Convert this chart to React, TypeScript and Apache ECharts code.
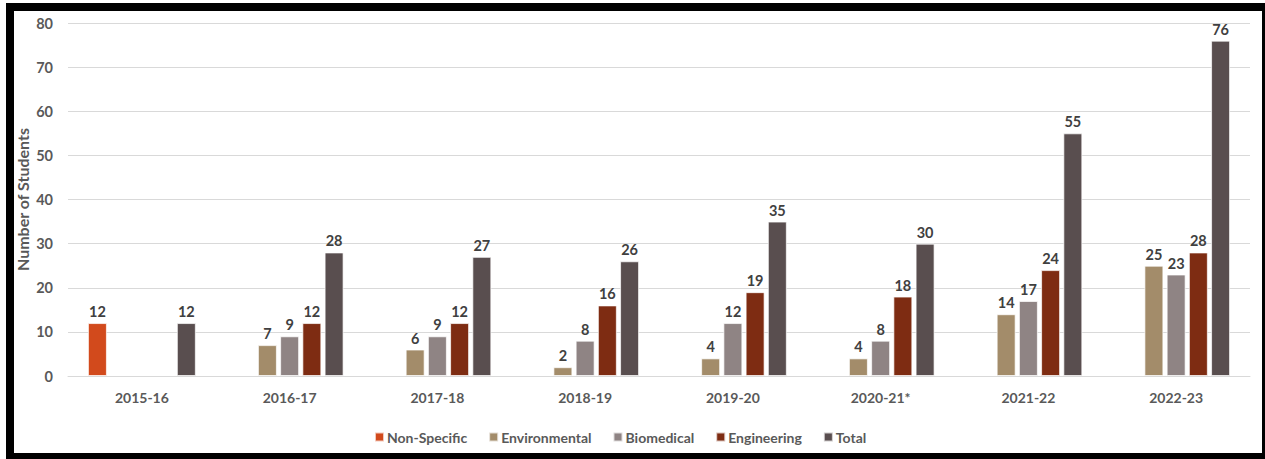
import React, { useEffect, useRef } from "react";
import * as echarts from "echarts";

const categories = ["2015-16", "2016-17", "2017-18", "2018-19", "2019-20", "2020-21*", "2021-22", "2022-23"];
const nonSpecific = [12, null, null, null, null, null, null, null];
const environmental = [null, 7, 6, 2, 4, 4, 14, 25];
const biomedical = [null, 9, 9, 8, 12, 8, 17, 23];
const engineering = [null, 12, 12, 16, 19, 18, 24, 28];
const total = [12, 28, 27, 26, 35, 30, 55, 76];
const seriesNames = ["Non-Specific", "Environmental", "Biomedical", "Engineering", "Total"];
const seriesColors = ["#D24A1C", "#A38C6A", "#8F8484", "#7E2C12", "#594E4F"];
const yTicks = { min: 0, max: 80, interval: 10 };

const FONT = "Lato, 'Open Sans', sans-serif";

export default function App() {
  const ref = useRef<HTMLDivElement>(null);
  useEffect(() => {
    if (!ref.current) return;
    const chart = echarts.init(ref.current, null, { renderer: "svg" });
    const data = [nonSpecific, environmental, biomedical, engineering, total];
    chart.setOption({
      animation: false,
      textStyle: { fontFamily: FONT },
      grid: { left: 54, right: 12, top: 12, bottom: 77, containLabel: false, outerBoundsMode: "none" },
      legend: {
        data: seriesNames,
        bottom: 4,
        left: 355,
        itemWidth: 9,
        itemHeight: 9,
        itemGap: 21,
        icon: "rect",
        textStyle: { color: "#595959", fontSize: 14, fontWeight: "bold", fontFamily: FONT, padding: [0, 0, 0, -2] },
      },
      xAxis: {
        type: "category",
        data: categories,
        axisLine: { lineStyle: { color: "#D9D9D9", width: 1 } },
        axisTick: { show: false },
        axisLabel: { color: "#595959", fontSize: 14, fontWeight: "bold", fontFamily: FONT, margin: 14 },
      },
      yAxis: {
        type: "value",
        min: yTicks.min,
        max: yTicks.max,
        interval: yTicks.interval,
        name: "Number of Students",
        nameLocation: "middle",
        nameGap: 38,
        nameMoveOverlap: false,
        nameTextStyle: { color: "#595959", fontSize: 16, lineHeight: 16, fontWeight: "bold", fontFamily: FONT },
        axisLine: { show: false },
        axisTick: { show: false },
        splitLine: { lineStyle: { color: "#D9D9D9", width: 1 } },
        axisLabel: { color: "#595959", fontSize: 14.5, fontWeight: "bold", fontFamily: FONT, margin: 15 },
      },
      series: seriesNames.map((name, i) => ({
        name,
        type: "bar",
        data: data[i],
        barWidth: 19,
        barGap: "17%",
        itemStyle: { color: seriesColors[i], borderColor: "rgba(255,255,255,0.7)", borderWidth: 1 },
        label: {
          show: true,
          position: "top",
          distance: 4,
          color: "#404040",
          fontSize: 14.5,
          fontWeight: "bold",
          fontFamily: FONT,
        },
      })),
    });
    return () => chart.dispose();
  }, []);
  return (
    <div style={{ position: "fixed", left: 0, top: 0, width: 1265, height: 459, overflow: "hidden", background: "#fff" }}>
      <div style={{ position: "absolute", left: 6, top: 3, width: 1259, height: 456, background: "#000" }} />
      <div style={{ position: "absolute", left: 14, top: 11, width: 1248, height: 442, background: "#fff" }}>
        <div ref={ref} style={{ width: 1248, height: 442 }} />
      </div>
    </div>
  );
}
